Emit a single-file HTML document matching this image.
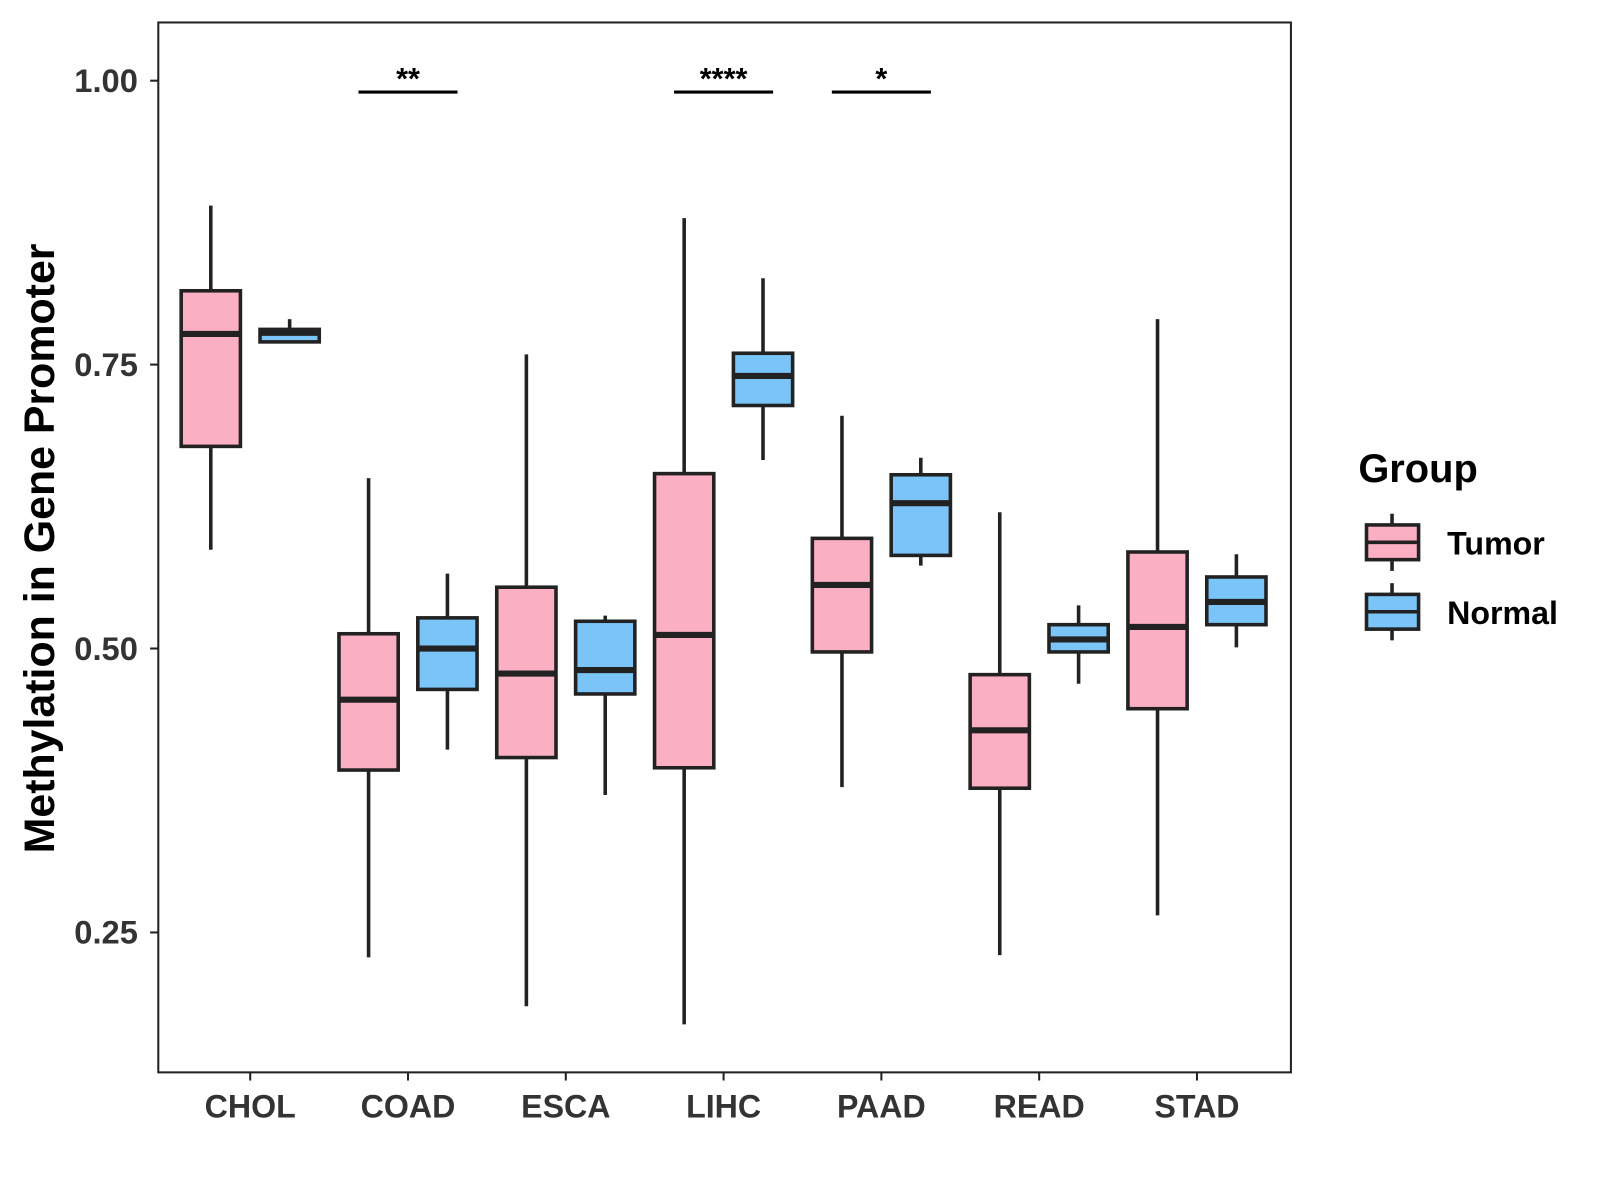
<!DOCTYPE html>
<html><head><meta charset="utf-8"><style>
html,body{margin:0;padding:0;background:#fff;}
svg{display:block;font-family:"Liberation Sans",Arial,sans-serif;}
</style></head><body>
<svg id="chart" width="1600" height="1200" viewBox="0 0 1600 1200">
<rect x="0" y="0" width="1600" height="1200" fill="#fff"/>
<g transform="scale(1.0213)">
<g id="marks"></g>
<rect x="155" y="22" width="1109" height="1028" fill="none" stroke="#222" stroke-width="2"/>
<g id="axes"></g>
<text x="53" y="537" transform="rotate(-90 53 537)" text-anchor="middle" font-size="42" font-weight="bold" fill="#000">Methylation in Gene Promoter</text>
<g>
<text x="1330" y="472" font-size="39" font-weight="bold" fill="#000">Group</text>
<g>
<line x1="1363" y1="503" x2="1363" y2="559" stroke="#222" stroke-width="3.5"/>
<rect x="1338" y="514" width="51" height="34" fill="#FBAFC2" stroke="#222" stroke-width="3.5"/>
<line x1="1338" y1="531" x2="1389" y2="531" stroke="#222" stroke-width="3.5"/>
<text x="1417" y="543" font-size="31.5" font-weight="bold" fill="#000">Tumor</text>
</g>
<g>
<line x1="1363" y1="571" x2="1363" y2="627" stroke="#222" stroke-width="3.5"/>
<rect x="1338" y="582" width="51" height="34" fill="#7AC4F8" stroke="#222" stroke-width="3.5"/>
<line x1="1338" y1="599" x2="1389" y2="599" stroke="#222" stroke-width="3.5"/>
<text x="1417" y="611" font-size="31.5" font-weight="bold" fill="#000">Normal</text>
</g>
</g>
</g>
</svg>
<script>
const categories = ["CHOL","COAD","ESCA","LIHC","PAAD","READ","STAD"];
// [low, q1, median, q3, high]
const tumorStats = [
 [0.587,0.678,0.777,0.815,0.890],
 [0.228,0.393,0.455,0.513,0.650],
 [0.185,0.404,0.478,0.554,0.759],
 [0.169,0.395,0.512,0.654,0.879],
 [0.378,0.497,0.556,0.597,0.705],
 [0.230,0.377,0.428,0.477,0.620],
 [0.265,0.447,0.519,0.585,0.790]
];
const normalStats = [
 [0.770,0.770,0.778,0.781,0.790],
 [0.411,0.464,0.500,0.527,0.566],
 [0.371,0.460,0.481,0.524,0.529],
 [0.666,0.714,0.740,0.760,0.826],
 [0.573,0.582,0.628,0.653,0.668],
 [0.469,0.497,0.508,0.521,0.538],
 [0.501,0.521,0.541,0.563,0.583]
];
const yTicks = [0.25,0.50,0.75,1.00];
const yTickLabels = ["0.25","0.50","0.75","1.00"];
const sigCategories = ["COAD","LIHC","PAAD"];
const sigLabels = ["**","****","*"];
const sigLevel = 0.99;

const NS="http://www.w3.org/2000/svg";
function yScale(v){return 79+(1-v)*1112;}
function xScale(i){return 245+i*154.5;}
const marks=document.getElementById('marks');
const axes=document.getElementById('axes');
function el(tag,attrs,parent){const e=document.createElementNS(NS,tag);for(const k in attrs)e.setAttribute(k,attrs[k]);parent.appendChild(e);return e;}

function drawBox(cx,s,fill,name){
  const g=el('g',{},marks);
  
  
  const w=58;
  el('line',{x1:cx,x2:cx,y1:yScale(s[4]),y2:yScale(s[0]),stroke:'#222','stroke-width':3.5},g);
  el('rect',{x:cx-w/2,y:yScale(s[3]),width:w,height:Math.max(1,yScale(s[1])-yScale(s[3])),fill:fill,stroke:'#222','stroke-width':3.5},g);
  el('line',{x1:cx-w/2,x2:cx+w/2,y1:yScale(s[2]),y2:yScale(s[2]),stroke:'#222','stroke-width':6},g);
}
categories.forEach((c,i)=>{
  drawBox(xScale(i)-38.6,tumorStats[i],'#FBAFC2','box-tumor-'+c.toLowerCase());
  drawBox(xScale(i)+38.6,normalStats[i],'#7AC4F8','box-normal-'+c.toLowerCase());
  el('line',{x1:xScale(i),x2:xScale(i),y1:1050,y2:1058,stroke:'#222','stroke-width':2},axes);
  const t=el('text',{x:xScale(i),y:1094,'text-anchor':'middle','font-size':31.5,'font-weight':'bold',fill:'#333'},axes);
  t.textContent=c;
  
  
});
yTicks.forEach((v,i)=>{
  el('line',{x1:147,x2:155,y1:yScale(v),y2:yScale(v),stroke:'#222','stroke-width':2},axes);
  const t=el('text',{x:135,y:yScale(v)+11,'text-anchor':'end','font-size':32,'font-weight':'bold',fill:'#333'},axes);
  t.textContent=yTickLabels[i];
  
  
});
sigCategories.forEach((c,k)=>{
  const i=categories.indexOf(c);
  const g=el('g',{},marks);
  
  
  el('line',{x1:xScale(i)-48.5,x2:xScale(i)+48.5,y1:yScale(sigLevel),y2:yScale(sigLevel),stroke:'#000','stroke-width':3},g);
  const t=el('text',{x:xScale(i),y:yScale(sigLevel)-3,'text-anchor':'middle','font-size':30,'font-weight':'bold',fill:'#000'},g);
  t.textContent=sigLabels[k];
});
</script>
</body></html>
